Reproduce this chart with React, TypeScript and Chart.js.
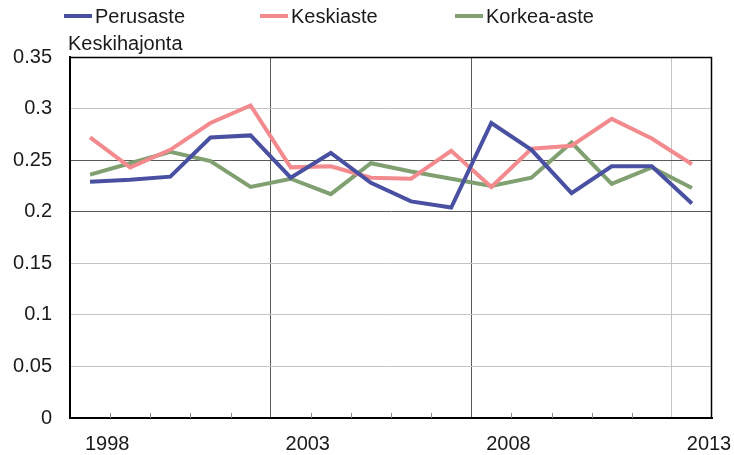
import React, { useEffect, useRef } from 'react';
import { Chart, registerables } from 'chart.js';

Chart.register(...registerables);

// Data years (points sit at mid-year), axis labels mark year boundaries
const years = [1997, 1998, 1999, 2000, 2001, 2002, 2003, 2004, 2005, 2006, 2007, 2008, 2009, 2010, 2011, 2012];
const tickLabelYears = [1998, 2003, 2008, 2013];
const darkGridYears = [2002, 2007];
const lightGridYears = [2012];
const yTicks = [0, 0.05, 0.1, 0.15, 0.2, 0.25, 0.3, 0.35];
const darkGridValues = [0.2, 0.25];

const seriesNames = ['Perusaste', 'Keskiaste', 'Korkea-aste'];
const perusaste = [0.229, 0.231, 0.234, 0.272, 0.274, 0.233, 0.257, 0.228, 0.210, 0.204, 0.286, 0.260, 0.218, 0.244, 0.244, 0.208];
const keskiaste = [0.272, 0.243, 0.260, 0.286, 0.303, 0.243, 0.244, 0.233, 0.232, 0.259, 0.224, 0.261, 0.264, 0.290, 0.271, 0.246];
const korkeaAste = [0.236, 0.247, 0.258, 0.249, 0.224, 0.232, 0.217, 0.247, 0.239, 0.232, 0.225, 0.233, 0.267, 0.227, 0.243, 0.223];
const yTitle = 'Keskihajonta';

const colors = ['#4950a2', '#f28a8e', '#80a071'];
const FONT = '"Liberation Sans", Arial, sans-serif';

const toPoints = (vals: number[]) => vals.map((v, i) => ({ x: years[i] + 0.5, y: v }));

const decorPlugin = {
  id: 'decor',
  beforeDatasetsDraw(chart: any) {
    const { ctx, chartArea: a, scales } = chart;
    const x = scales.x;
    ctx.save();
    // small inner tick marks on x axis
    ctx.beginPath();
    ctx.strokeStyle = '#8c8c8c';
    ctx.lineWidth = 1;
    for (let v = years[0] + 1; v < years[years.length - 1] + 1; v++) {
      if (darkGridYears.includes(v) || lightGridYears.includes(v)) continue;
      const px = Math.round(x.getPixelForValue(v)) + 0.5;
      ctx.moveTo(px, a.bottom);
      ctx.lineTo(px, a.bottom - 5);
    }
    ctx.stroke();
    // top and right border
    ctx.beginPath();
    ctx.strokeStyle = '#000';
    ctx.lineWidth = 1.5;
    ctx.moveTo(a.left, a.top + 0.5);
    ctx.lineTo(a.right - 0.5, a.top + 0.5);
    ctx.lineTo(a.right - 0.5, a.bottom);
    ctx.stroke();
    ctx.restore();
  },
  afterDraw(chart: any) {
    const { ctx, chartArea: a } = chart;
    ctx.save();
    ctx.font = `20px ${FONT}`;
    ctx.fillStyle = '#1a1a1a';
    ctx.textBaseline = 'middle';
    ctx.textAlign = 'left';
    // legend
    const starts = [64, 260, 455];
    chart.data.datasets.forEach((ds: any, i: number) => {
      const sx = starts[i];
      ctx.beginPath();
      ctx.strokeStyle = ds.borderColor;
      ctx.lineWidth = 4;
      ctx.moveTo(sx, 16);
      ctx.lineTo(sx + 28, 16);
      ctx.stroke();
      ctx.fillText(ds.label, sx + 31, 17);
    });
    // y title
    ctx.fillText(yTitle, a.left - 2, 44);
    ctx.restore();
  },
};

export default function App() {
  const ref = useRef<HTMLCanvasElement>(null);
  useEffect(() => {
    document.body.style.margin = '0';
    const chart = new Chart(ref.current!, {
      type: 'line',
      data: {
        datasets: [perusaste, keskiaste, korkeaAste].map((vals, i) => ({
          label: seriesNames[i],
          data: toPoints(vals),
          borderColor: colors[i],
          backgroundColor: colors[i],
          borderWidth: 4,
          pointRadius: 0,
          tension: 0,
          fill: false,
        })),
      },
      options: {
        animation: false,
        responsive: false,
        layout: { padding: { top: 57, right: 22, left: 0, bottom: 0 } },
        plugins: { legend: { display: false }, title: { display: false }, tooltip: { enabled: false } },
        scales: {
          x: {
            type: 'linear',
            min: years[0],
            max: years[years.length - 1] + 1,
            afterFit: (s: any) => { s.height = 37; s.paddingLeft = 0; s.paddingRight = 0; },
            afterBuildTicks: (s: any) => {
              const t = [];
              for (let v = years[0]; v <= years[years.length - 1] + 1; v++) t.push({ value: v });
              s.ticks = t;
            },
            ticks: {
              autoSkip: false,
              maxRotation: 0,
              padding: 14,
              labelOffset: -3,
              color: '#1a1a1a',
              font: { family: FONT, size: 20 },
              callback: (v: any) => (tickLabelYears.includes(v) ? String(v) : ''),
            },
            grid: {
              drawTicks: false,
              color: (c: any) => {
                const v = c.tick?.value;
                if (darkGridYears.includes(v)) return '#5a5a5a';
                if (lightGridYears.includes(v)) return '#c4c4c4';
                return 'rgba(0,0,0,0)';
              },
              lineWidth: 1,
            },
            border: { display: true, color: '#000', width: 2 },
          },
          y: {
            min: 0,
            max: 0.35,
            afterFit: (s: any) => { s.width = 70; s.paddingTop = 0; s.paddingBottom = 0; },
            afterBuildTicks: (s: any) => { s.ticks = yTicks.map((v) => ({ value: v })); },
            ticks: {
              padding: 18,
              color: '#1a1a1a',
              font: { family: FONT, size: 20 },
              callback: (v: any) => String(Number(Number(v).toFixed(2))),
            },
            grid: {
              drawTicks: false,
              color: (c: any) => {
                const v = Number(Number(c.tick?.value).toFixed(2));
                if (v === 0 || v === 0.35) return 'rgba(0,0,0,0)';
                if (darkGridValues.includes(v)) return '#5a5a5a';
                return '#c4c4c4';
              },
              lineWidth: 1,
            },
            border: { display: true, color: '#000', width: 2 },
          },
        },
      },
      plugins: [decorPlugin],
    });
    return () => chart.destroy();
  }, []);
  return (
    <div style={{ width: 734, height: 455 }}>
      <canvas ref={ref} width={734} height={455} />
    </div>
  );
}
